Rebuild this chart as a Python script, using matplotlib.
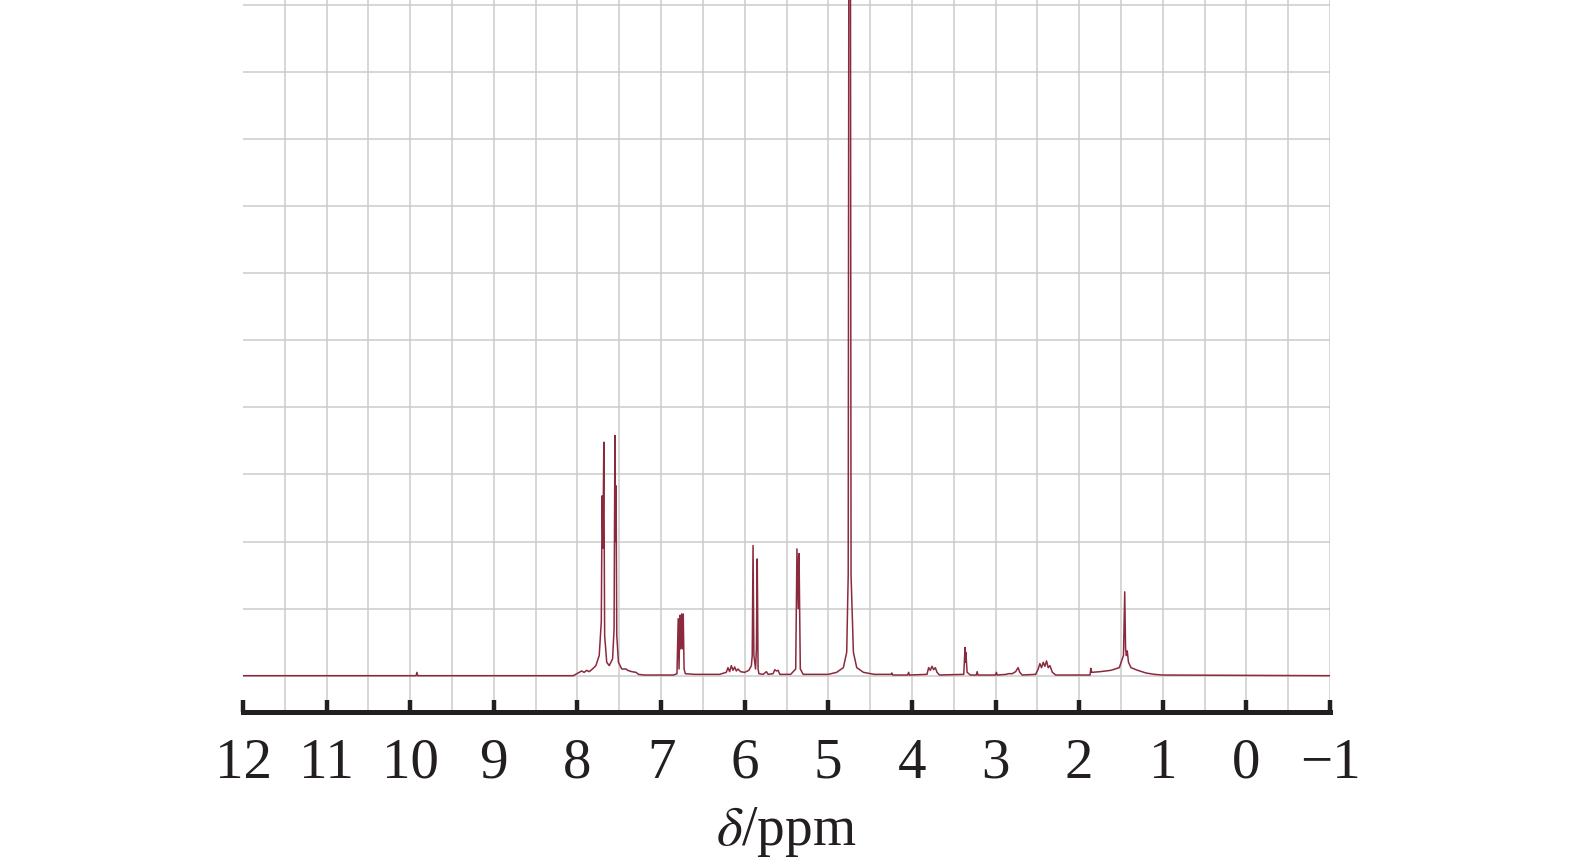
"""
1H NMR spectrum - intensity vs chemical shift (ppm), x axis reversed
"""

import numpy as np
import matplotlib
matplotlib.use('Agg')
from matplotlib import pyplot as plt

# Spectrum trace: chemical shift [ppm] and relative intensity
# (one unit = one horizontal grid step)
shift = [12.0, 10.0, 9.93, 9.92, 9.91, 8.05, 7.98, 7.95, 7.92, 7.89, 7.86, 7.82,
         7.78, 7.74, 7.715, 7.705, 7.695, 7.685, 7.675, 7.65, 7.62, 7.58, 7.562,
         7.552, 7.545, 7.538, 7.53, 7.51, 7.47, 7.42, 7.40, 7.35, 7.30, 7.27, 7.2,
         6.85, 6.81, 6.795, 6.785, 6.775, 6.765, 6.755, 6.745, 6.735, 6.725, 6.71,
         6.6, 6.3, 6.22, 6.20, 6.18, 6.16, 6.14, 6.12, 6.10, 6.08, 6.05, 6.0, 5.95,
         5.92, 5.91, 5.90, 5.89, 5.87, 5.86, 5.85, 5.84, 5.83, 5.78, 5.74, 5.72,
         5.66, 5.64, 5.62, 5.60, 5.58, 5.45, 5.39, 5.375, 5.36, 5.35, 5.335, 5.3,
         5.0, 4.90, 4.82, 4.78, 4.762, 4.752, 4.738, 4.728, 4.70, 4.66, 4.58, 4.45,
         4.25, 4.24, 4.23, 4.05, 4.04, 4.03, 3.82, 3.80, 3.78, 3.76, 3.74, 3.72,
         3.70, 3.67, 3.38, 3.365, 3.36, 3.355, 3.34, 3.3, 3.23, 3.22, 3.21, 3.0,
         2.99, 2.98, 2.87, 2.85, 2.80, 2.76, 2.73, 2.71, 2.68, 2.52, 2.49, 2.47,
         2.45, 2.43, 2.41, 2.39, 2.37, 2.35, 2.32, 2.28, 1.87, 1.86, 1.85, 1.75,
         1.62, 1.52, 1.47, 1.455, 1.445, 1.435, 1.425, 1.41, 1.38, 1.3, 1.2, 1.1,
         1.0, -1.0]
intensity = [0, 0, 0, 0.05, 0, 0, 0.05, 0.07, 0.05, 0.08, 0.06, 0.1,
             0.15, 0.3, 0.8, 2.68, 1.9, 3.48, 0.6, 0.2, 0.15, 0.25, 0.7,
             3.58, 2.0, 2.83, 0.6, 0.2, 0.1, 0.1, 0.08, 0.06, 0.05, 0.02, 0.01,
             0.01, 0.03, 0.85, 0.1, 0.9, 0.4, 0.92, 0.4, 0.92, 0.1, 0.03,
             0.02, 0.02, 0.05, 0.12, 0.06, 0.15, 0.08, 0.13, 0.07, 0.1, 0.06, 0.05, 0.08,
             0.15, 0.3, 1.94, 0.3, 0.1, 0.4, 1.74, 0.1, 0.03, 0.02, 0.06, 0.02,
             0.03, 0.09, 0.07, 0.08, 0.02, 0.02, 0.1, 1.89, 1.0, 1.82, 0.1, 0.02,
             0.02, 0.05, 0.12, 0.35, 1.5, 14.0, 14.0, 1.5, 0.35, 0.12, 0.05, 0.02,
             0.02, 0.04, 0.01, 0.01, 0.05, 0.01, 0.02, 0.12, 0.08, 0.14, 0.09, 0.12,
             0.05, 0.01, 0.02, 0.42, 0.2, 0.35, 0.05, 0.01, 0.01, 0.06, 0.01, 0.01,
             0.05, 0.01, 0.02, 0.03, 0.03, 0.06, 0.12, 0.05, 0.01, 0.02, 0.1, 0.18,
             0.12, 0.2, 0.14, 0.22, 0.12, 0.15, 0.05, 0.01, 0.01, 0.11, 0.05, 0.06,
             0.08, 0.12, 0.3, 1.25, 0.4, 0.3, 0.37, 0.2, 0.12, 0.08, 0.04, 0.02,
             0.01, 0.0]

major_ticks = list(range(12, -2, -1))
grid_x = list(np.arange(11.5, -1.01, -0.5))
grid_y = list(range(0, 11))

colorTrace = '#8b2a3e'
colorGrid = '#cbcbcb'

plt.rcParams['font.family'] = ['Liberation Serif', 'DejaVu Serif']
plt.rcParams['mathtext.fontset'] = 'stix'

fig = plt.figure(figsize=(15.75, 8.62), dpi=100)
ax = fig.add_axes([243/1575, 1 - 713/862, (1330 - 243)/1575, 713/862])

# background grid
for gx in grid_x:
    ax.axvline(gx, color=colorGrid, lw=1.1, zorder=0)
for gy in grid_y:
    ax.axhline(gy, color=colorGrid, lw=1.1, zorder=0)

ax.plot(shift, intensity, color=colorTrace, lw=1.1, zorder=2)

ax.set_xlim(12, -1)
ax.set_ylim(-0.541, 10.085)

ax.set_xticks(major_ticks)
ax.set_yticks([])
ax.tick_params(axis='x', direction='in', length=9, width=3.2, color='#231f20',
               labelsize=41, pad=18, labelcolor='#231f20')
for s in ['left', 'top', 'right']:
    ax.spines[s].set_visible(False)
ax.spines['bottom'].set_linewidth(3.6)
ax.spines['bottom'].set_color('#231f20')

ax.set_xlabel(r'$\delta$/ppm', fontsize=40, color='#231f20', labelpad=11)

fig.savefig('out.png', dpi=100)
